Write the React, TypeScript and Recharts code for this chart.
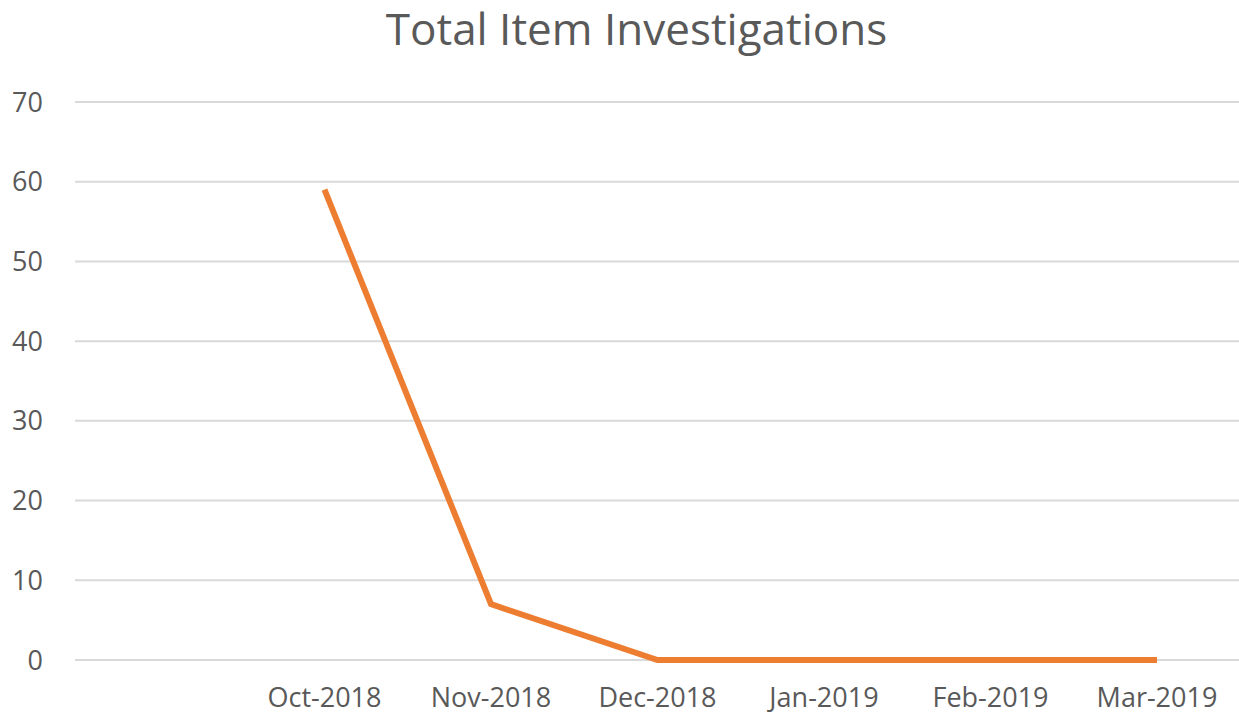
import { LineChart, Line, XAxis, YAxis, CartesianGrid } from 'recharts';

const months = ['', 'Oct-2018', 'Nov-2018', 'Dec-2018', 'Jan-2019', 'Feb-2019', 'Mar-2019'];
const investigations = [null, 59, 7, 0, 0, 0, 0];
const yTicks = [0, 10, 20, 30, 40, 50, 60, 70];

const data = months.map((m, i) => ({ month: m, value: investigations[i] }));

const FONT = '"Open Sans", sans-serif';
const TEXT = '#595959';

export default function App() {
  return (
    <div style={{ position: 'absolute', left: 0, top: 0, width: 1239, height: 715, background: '#fff', fontFamily: FONT }}>
      <div
        style={{
          position: 'absolute',
          top: 6,
          left: 0,
          width: 1273,
          textAlign: 'center',
          fontSize: 44,
          lineHeight: '44px',
          color: TEXT,
        }}
      >
        Total Item Investigations
      </div>
      <LineChart width={1240} height={715} data={data} margin={{ top: 102, right: 0, bottom: 25, left: 0 }}>
        <CartesianGrid horizontal vertical={false} stroke="#d9d9d9" strokeWidth={2} />
        <XAxis
          dataKey="month"
          axisLine={false}
          tickLine={false}
          tickSize={0}
          tickMargin={28}
          interval={0}
          padding={{ left: 83, right: 83 }}
          tick={{ fill: TEXT, fontSize: 27, fontFamily: FONT }}
        />
        <YAxis
          width={75}
          domain={[0, 70]}
          ticks={yTicks}
          axisLine={false}
          tickLine={false}
          tickSize={0}
          tickMargin={32}
          tick={{ fill: TEXT, fontSize: 27, fontFamily: FONT }}
        />
        <Line
          type="linear"
          dataKey="value"
          stroke="#ED7D31"
          strokeWidth={6}
          dot={false}
          activeDot={false}
          isAnimationActive={false}
        />
      </LineChart>
    </div>
  );
}
